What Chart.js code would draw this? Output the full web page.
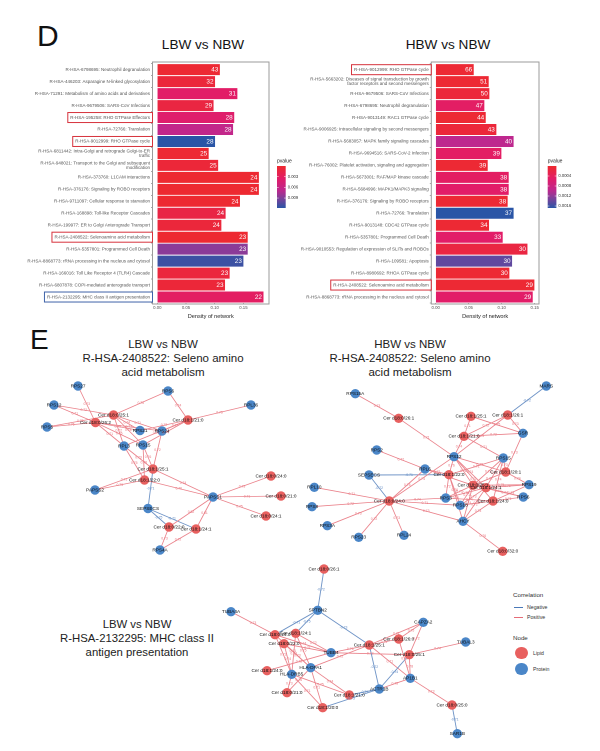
<!DOCTYPE html>
<html><head><meta charset="utf-8">
<script src="https://cdn.jsdelivr.net/npm/chart.js@4"></script>
<style>
html,body{margin:0;padding:0;background:#fff;width:600px;height:751px;overflow:hidden;font-family:"Liberation Sans",Arial,sans-serif}
canvas{position:absolute}
.t{position:absolute;color:#111;text-align:center;white-space:nowrap}
.net-title{font-size:11.5px;line-height:14px;color:#222}
.lg{position:absolute;color:#333;white-space:nowrap}
.dot{position:absolute;border-radius:50%;width:12.5px;height:12.5px}
.ln{position:absolute;height:1px;width:9px}
</style></head><body>
<div class="t" style="left:37px;top:18px;font-size:30px;line-height:36px">D</div>
<div class="t" style="left:30px;top:323px;font-size:28px;line-height:34px">E</div>
<div class="t" style="left:143px;top:36px;width:120px;font-size:13.6px;line-height:18px">LBW vs NBW</div>
<div class="t" style="left:388px;top:36px;width:120px;font-size:13.6px;line-height:18px">HBW vs NBW</div>
<div class="t net-title" style="left:63px;top:337px;width:200px">LBW vs NBW<br>R-HSA-2408522: Seleno amino<br>acid metabolism</div>
<div class="t net-title" style="left:310px;top:337px;width:200px">HBW vs NBW<br>R-HSA-2408522: Seleno amino<br>acid metabolism</div>
<div class="t net-title" style="left:37px;top:617px;width:200px;font-size:11.35px">LBW vs NBW<br>R-HSA-2132295: MHC class II<br>antigen presentation</div>

<canvas id="barLeft" style="left:0;top:20px;width:300px;height:300px" width="300" height="300"></canvas>
<canvas id="barRight" style="left:300px;top:20px;width:300px;height:300px" width="300" height="300"></canvas>
<canvas id="net1" style="left:0;top:375px;width:300px;height:185px" width="300" height="185"></canvas>
<canvas id="net2" style="left:300px;top:375px;width:300px;height:185px" width="300" height="185"></canvas>
<canvas id="net3" style="left:180px;top:560px;width:300px;height:191px" width="300" height="191"></canvas>

<div class="lg" style="left:513px;top:591px;font-size:6.2px">Correlation</div>
<div class="ln" style="left:514px;top:607px;background:#4A79B8"></div>
<div class="lg" style="left:527px;top:603.5px;font-size:5.2px">Negative</div>
<div class="ln" style="left:514px;top:617px;background:#E56C78"></div>
<div class="lg" style="left:527px;top:613.5px;font-size:5.2px">Positive</div>
<div class="lg" style="left:513px;top:634px;font-size:6.2px">Node</div>
<div class="dot" style="left:515px;top:646.5px;background:#E8605F"></div>
<div class="lg" style="left:533px;top:650px;font-size:5.2px">Lipid</div>
<div class="dot" style="left:515px;top:662.5px;background:#4A86C8"></div>
<div class="lg" style="left:533px;top:666px;font-size:5.2px">Protein</div>

<script>
// ---------- Panel D, LBW vs NBW ----------
const lbwCategories = [
  "R-HSA-6798695: Neutrophil degranulation","R-HSA-446203: Asparagine N-linked glycosylation",
  "R-HSA-71291: Metabolism of amino acids and derivatives","R-HSA-9679506: SARS-CoV Infections",
  "R-HSA-195258: RHO GTPase Effectors","R-HSA-72766: Translation","R-HSA-9012999: RHO GTPase cycle",
  ["R-HSA-6811442: Intra-Golgi and retrograde Golgi-to-ER","traffic"],
  ["R-HSA-948021: Transport to the Golgi and subsequent","modification"],
  "R-HSA-373760: L1CAM interactions","R-HSA-376176: Signaling by ROBO receptors",
  "R-HSA-9711097: Cellular response to starvation","R-HSA-168898: Toll-like Receptor Cascades",
  "R-HSA-199977: ER to Golgi Anterograde Transport","R-HSA-2408522: Selenoamino acid metabolism",
  "R-HSA-5357801: Programmed Cell Death","R-HSA-8868773: rRNA processing in the nucleus and cytosol",
  "R-HSA-166016: Toll Like Receptor 4 (TLR4) Cascade","R-HSA-6807878: COPI-mediated anterograde transport",
  "R-HSA-2132295: MHC class II antigen presentation"];
const lbwDensity = [.109,.1006,.1395,.098,.134,.132,.1006,.0895,.106,.177,.177,.144,.119,.1116,.1575,.1575,.15,.126,.118,.185];
const lbwCounts = [43,32,31,29,28,28,28,25,25,24,24,24,24,24,23,23,23,23,23,22];
const lbwPvalues = [.0003,.0008,.0035,.0012,.0038,.0065,.0118,.0003,.0007,.0002,.0002,.0002,.0014,.0008,.0002,.0086,.0112,.0009,.0007,.0032];
const lbwPvalueTicks = [.003,.006,.009];
const lbwRedBoxes = [4,6,14];
const lbwBlueBoxes = [19];

// ---------- Panel D, HBW vs NBW ----------
const hbwCategories = [
  "R-HSA-9012999: RHO GTPase cycle",
  ["R-HSA-5663202: Diseases of signal transduction by growth","factor receptors and second messengers"],
  "R-HSA-9679506: SARS-CoV Infections","R-HSA-6798695: Neutrophil degranulation","R-HSA-9013149: RAC1 GTPase cycle",
  "R-HSA-9006925: Intracellular signaling by second messengers","R-HSA-5683057: MAPK family signaling cascades",
  "R-HSA-9694516: SARS-CoV-2 Infection","R-HSA-76002: Platelet activation, signaling and aggregation",
  "R-HSA-5673001: RAF/MAP kinase cascade","R-HSA-5684996: MAPK1/MAPK3 signaling","R-HSA-376176: Signaling by ROBO receptors",
  "R-HSA-72766: Translation","R-HSA-9013148: CDC42 GTPase cycle","R-HSA-5357801: Programmed Cell Death",
  "R-HSA-9010553: Regulation of expression of SLITs and ROBOs","R-HSA-109581: Apoptosis","R-HSA-8980692: RHOA GTPase cycle",
  "R-HSA-2408522: Selenoamino acid metabolism","R-HSA-8868773: rRNA processing in the nucleus and cytosol"];
const hbwDensity = [.0576,.0803,.0813,.0737,.0758,.0919,.118,.0995,.0788,.1106,.1106,.109,.118,.0808,.1015,.139,.1157,.1116,.1495,.147];
const hbwCounts = [66,51,50,47,44,43,40,39,39,38,38,38,37,34,33,30,30,30,29,29];
const hbwPvalues = [.00005,.00005,.0001,.00047,.00005,.0001,.00097,.00047,.00005,.00045,.0005,.00005,.00168,.00005,.0005,.00017,.00143,.00005,.00005,.0005];
const hbwPvalueTicks = [.0004,.0008,.0012,.0016];
const hbwRedBoxes = [0,18];
const hbwBlueBoxes = [];

// ---------- Panel E networks: node layout, edges [from, to, correlation] ----------
const net1Names = ["RPS27","RPS6","RPS12","RPL36","Cer d18:0/25:1","Cer d18:0/26:2","RPS5","Cer d18:1/21:0","RPS21","RPS24","RPL3","RPS15","Cer d18:1/25:1","Cer d18:1/22:0","PAPSS2","SEPSECS","PAPSS1","Cer d18:0/24:0","Cer d18:0/21:0","Cer d18:0/24:1","Cer d18:0/22:0","Cer d18:1/24:1","RPS4A"];
const net1Lipid = [0,0,0,0,1,1,0,1,0,0,0,0,1,1,0,0,0,1,1,1,1,1,0];
const net1X = [78,168,54,251,113.5,95.5,47,188,140,162,124,143,153,144.5,95,148,213,271,281,266,169,196,160];
const net1Y = [386,391,405,405,415,422.5,427,420,430.5,431,446,445,469,480,490,508.5,497,476,496,516,527,529,550];
const net1Edges = [[0,5,.73],[1,4,.75],[1,7,.74],[2,4,.72],[2,5,.71],[6,5,.76],[6,4,.73],[3,7,.75],[4,8,.74],[4,9,.71],[4,10,.72],[4,11,.78],[5,8,.75],[5,9,.73],[5,10,.71],[5,11,.76],[7,8,.72],[7,9,.77],[7,10,.71],[7,11,.74],[12,10,.73],[12,11,.76],[12,9,.72],[13,10,.75],[13,11,.78],[12,14,.71],[13,14,.73],[12,16,.74],[13,16,.76],[16,17,.73],[16,18,.71],[16,19,.75],[16,20,.82],[16,21,.81],[20,22,.73],[21,22,.72],[15,12,-.71],[15,20,-.75],[15,21,-.71]];

const net2Names = ["RPS15A","Cer d18:0/26:1","MARS","Cer d18:1/25:1","Cer d18:1/26:1","GSR","RPS2","Cer d18:1/21:0","RPS12","RPS15","RPL6","Cer d18:1/20:1","Cer d18:1/22:0","SEPSECS","RPS19","Cer d18:0/25:1","Cer d18:1/24:1","RPL10","RPS6","RPS3","Cer d18:1/24:0","Cer d18:0/24:0","RPS8","RPS18","AHCY","RPS3A","RPS23","RPL24","Cer d18:0/32:0"];
const net2Lipid = [0,1,0,1,1,0,0,1,0,0,0,1,1,0,0,1,1,0,0,0,1,1,0,0,0,0,0,0,1];
const net2X = [355.3,398.7,546.3,471,507.7,523,376.7,464,454,503.3,425,505.7,449,369,529,473,486,314.3,523.3,445.7,493,389.3,312,460.3,463,327.3,358.7,404,502.7];
const net2Y = [393.7,418.3,386,416.3,415,433.3,450,436.3,456.7,458,469,472,474.7,475,484.7,485.3,487.7,487.3,497,498,501,501,506.7,505.3,521.3,525.7,537.3,535.3,551.3];
const net2Edges = [[0,1,.73],[1,8,.71],[2,4,-.72],[4,5,.73],[4,7,.72],[3,5,.75],[3,7,.71],[7,5,.72],[7,8,.74],[7,9,.71],[4,8,.75],[5,11,.73],[6,10,.72],[21,10,.75],[21,8,.74],[13,12,-.71],[13,21,-.72],[21,17,.71],[21,22,.72],[21,25,.73],[21,26,.72],[21,27,.73],[21,19,.74],[21,23,.71],[21,24,.73],[8,12,.76],[8,15,.72],[8,16,.74],[8,20,.71],[8,11,.75],[9,11,.73],[9,15,.72],[9,16,.76],[9,12,.71],[9,20,.74],[11,15,.72],[14,15,.75],[14,16,.71],[14,11,.74],[14,20,.73],[18,15,.72],[18,16,.74],[18,20,.71],[19,15,.73],[19,16,.75],[19,12,.72],[19,20,.74],[23,15,.71],[23,16,.73],[23,12,.76],[23,20,.72],[24,15,.74],[24,16,.72],[24,20,.73],[24,12,.71],[24,28,.76],[10,12,.72],[10,15,.74]];

const net3Names = ["Cer d18:0/26:1","SPTBN2","TUBA4A","CAPZA2","Cer d18:0/24:0","Cer d18:1/24:1","TUBAL3","Cer d18:1/26:0","Cer d18:0/22:0","Cer d18:1/25:1","Cer d18:0/25:1","TUBB4","HLA-DPA1","Cer d18:1/24:0","HLA-DRB5","AP1B1","ACTR1B","Cer d18:0/21:0","Cer d18:1/21:0","Cer d18:1/20:0","Cer d18:0/25:0","SAR1B"];
const net3Lipid = [1,0,0,0,1,1,0,1,1,1,1,0,0,1,0,0,0,1,1,1,1,0];
const net3X = [324,317.7,231,423.3,275,295.7,465.7,398.7,284,369.3,409.3,331,310.7,267,291.7,410.3,379.3,287,349.3,322.7,452,457.3];
const net3Y = [569,610.3,611.7,622.3,634.7,633.3,642,639,643.7,645,654.7,652.7,667.7,670.7,674.3,678.3,689,692.7,695,707.7,705,733.7];
const net3Edges = [[0,1,-.72],[1,4,-.71],[1,5,-.75],[1,9,-.73],[2,4,.73],[3,7,.75],[3,10,.72],[3,9,.71],[6,10,.74],[7,15,.72],[7,9,.76],[10,15,.78],[15,20,.73],[20,21,-.71],[9,16,-.72],[16,10,-.74],[16,15,.75],[16,18,-.71],[16,19,-.73],[11,4,.74],[11,5,.72],[11,8,.71],[11,9,.76],[11,10,.73],[11,13,.72],[12,4,.71],[12,5,.75],[12,8,.73],[12,9,.72],[12,18,.74],[12,19,.71],[12,17,.76],[14,4,.72],[14,5,.73],[14,8,.74],[14,18,.75],[14,19,.71],[14,17,.73],[15,9,.71]];

// ---------- rendering ----------
const FONT = '"Liberation Sans", Arial, sans-serif';
Chart.defaults.font.family = FONT;
Chart.defaults.animation = false;
Chart.defaults.responsive = false;

const rampStops = [[0,[238,42,46]],[.3,[226,29,104]],[.58,[190,40,142]],[.78,[122,66,155]],[1,[42,85,166]]];
function rampColor(t){
  t = Math.max(0,Math.min(1,t));
  for(let i=1;i<rampStops.length;i++){
    if(t<=rampStops[i][0]){
      const a=rampStops[i-1], b=rampStops[i], f=(t-a[0])/(b[0]-a[0]);
      return 'rgb('+a[1].map((v,k)=>Math.round(v+(b[1][k]-v)*f)).join(',')+')';
    }
  }
  return 'rgb(42,85,166)';
}

function barChart(id,o){
  const pColor = p => rampColor(p/o.pMax);
  new Chart(document.getElementById(id),{
    type:'bar',
    data:{labels:o.labels,datasets:[{data:o.values,backgroundColor:o.pvalues.map(pColor),barPercentage:.92,categoryPercentage:1}]},
    options:{
      indexAxis:'y',devicePixelRatio:2,
      layout:{autoPadding:false,padding:{top:43.7,right:o.padRight,bottom:0,left:0}},
      plugins:{legend:{display:false},tooltip:{enabled:false}},
      scales:{
        y:{afterFit:s=>{s.width=o.axisWidth},
           grid:{display:true,drawOnChartArea:false,drawTicks:true,tickLength:1.5,color:'#555',lineWidth:.5},
           border:{display:false},
           ticks:{autoSkip:false,maxRotation:0,padding:1,color:'#555',font:{size:4.5,lineHeight:1.05}}},
        x:{min:o.min,max:o.max,afterFit:s=>{s.height=17},
           afterBuildTicks:s=>{s.ticks=o.xTicks.map(v=>({value:v}))},
           grid:{display:true,drawOnChartArea:false,drawTicks:true,tickLength:1.5,color:'#555',lineWidth:.5},
           border:{display:false},
           ticks:{padding:.5,color:'#555',font:{size:4.3},callback:v=>v.toFixed(2)},
           title:{display:true,text:'Density of network',color:'#222',padding:{top:1,bottom:0},font:{size:5.6}}}
      }
    },
    plugins:[{id:'decor',afterDraw(c){
      const g=c.ctx,a=c.chartArea,ys=c.scales.y,meta=c.getDatasetMeta(0);
      g.save();
      g.strokeStyle='#9b9b9b';g.lineWidth=1;
      g.strokeRect(a.left,a.top-1.7,a.right-a.left,a.bottom-a.top+2.7);
      g.fillStyle='#fff';g.font='6.4px '+FONT;g.textAlign='right';g.textBaseline='middle';
      meta.data.forEach((b,i)=>g.fillText(o.counts[i],b.x-1.5,b.y+.2));
      const box=(list,col)=>list.forEach(i=>{
        g.font='4.5px '+FONT;
        const l=o.labels[i],w=g.measureText(Array.isArray(l)?l[0]:l).width;
        const y=ys.getPixelForValue(i);
        g.strokeStyle=col;g.lineWidth=1;
        g.strokeRect(a.left-w-5,y-5,w+5,10);
      });
      box(o.red,'#D6323C');box(o.blue,'#3E62A8');
      const L=o.barX,T=146,W=8.7,H=42;
      const grad=g.createLinearGradient(0,T,0,T+H);
      for(let k=0;k<=20;k++)grad.addColorStop(k/20,rampColor(k/20));
      g.fillStyle=grad;g.fillRect(L,T,W,H);
      g.fillStyle='#222';g.font='5px '+FONT;g.textAlign='left';g.textBaseline='alphabetic';
      g.fillText('pvalue',L,T-3.6);
      g.font='4.2px '+FONT;g.textBaseline='middle';
      o.pTicks.forEach(p=>{
        const y=T+H*(p/o.pMax);
        g.strokeStyle='#fff';g.lineWidth=.5;
        g.beginPath();g.moveTo(L,y);g.lineTo(L+1.7,y);g.moveTo(L+W-1.7,y);g.lineTo(L+W,y);g.stroke();
        g.fillStyle='#333';g.fillText(String(p),L+W+2,y);
      });
      g.restore();
    }}]
  });
}

barChart('barLeft',{labels:lbwCategories,values:lbwDensity,counts:lbwCounts,pvalues:lbwPvalues,pMax:.0118,pTicks:lbwPvalueTicks,
  red:lbwRedBoxes,blue:lbwBlueBoxes,axisWidth:152.5,padRight:31,min:-.00836,max:.1946,xTicks:[0,.05,.10,.15],barX:277});
barChart('barRight',{labels:hbwCategories,values:hbwDensity,counts:hbwCounts,pvalues:hbwPvalues,pMax:.00168,pTicks:hbwPvalueTicks,
  red:hbwRedBoxes,blue:hbwBlueBoxes,axisWidth:131.3,padRight:61,min:-.00667,max:.1565,xTicks:[0,.05,.10,.15],barX:247.7});

function netChart(id,names,lipid,xs,ys,edges,xr,yr){
  const edgeSets = edges.map(([a,b,w])=>({
    type:'scatter',showLine:true,order:2,pointRadius:0,
    borderColor:w<0?'#6E93C6':'#EA828B',borderWidth:w<0?.9:.85,
    data:[{x:xs[a],y:ys[a]},{x:xs[b],y:ys[b]}]
  }));
  const nodeSet = {type:'scatter',order:1,showLine:false,pointRadius:4.7,pointBorderWidth:0,
    pointBackgroundColor:lipid.map(v=>v?'#E8605F':'#4A86C8'),
    data:names.map((_,i)=>({x:xs[i],y:ys[i]}))};
  new Chart(document.getElementById(id),{
    type:'scatter',
    data:{datasets:[nodeSet,...edgeSets]},
    options:{
      devicePixelRatio:2,
      plugins:{legend:{display:false},tooltip:{enabled:false}},
      layout:{autoPadding:false,padding:0},
      scales:{x:{display:false,min:xr[0],max:xr[1]},y:{display:false,reverse:true,min:yr[0],max:yr[1]}}
    },
    plugins:[{id:'netText',afterDraw(c){
      const g=c.ctx,sx=c.scales.x,sy=c.scales.y;
      g.save();g.textAlign='center';g.textBaseline='middle';
      g.font='3.4px '+FONT;
      edges.forEach(([a,b,w])=>{
        g.fillStyle=w<0?'#5E88C2':'#E8737D';
        g.fillText(w.toFixed(2),sx.getPixelForValue((xs[a]+xs[b])/2),sy.getPixelForValue((ys[a]+ys[b])/2));
      });
      g.font='4.7px '+FONT;g.fillStyle='#111';
      names.forEach((n,i)=>g.fillText(n,sx.getPixelForValue(xs[i]),sy.getPixelForValue(ys[i])));
      g.restore();
    }}]
  });
}
netChart('net1',net1Names,net1Lipid,net1X,net1Y,net1Edges,[0,300],[375,560]);
netChart('net2',net2Names,net2Lipid,net2X,net2Y,net2Edges,[300,600],[375,560]);
netChart('net3',net3Names,net3Lipid,net3X,net3Y,net3Edges,[180,480],[560,751]);
</script>
</body></html>
